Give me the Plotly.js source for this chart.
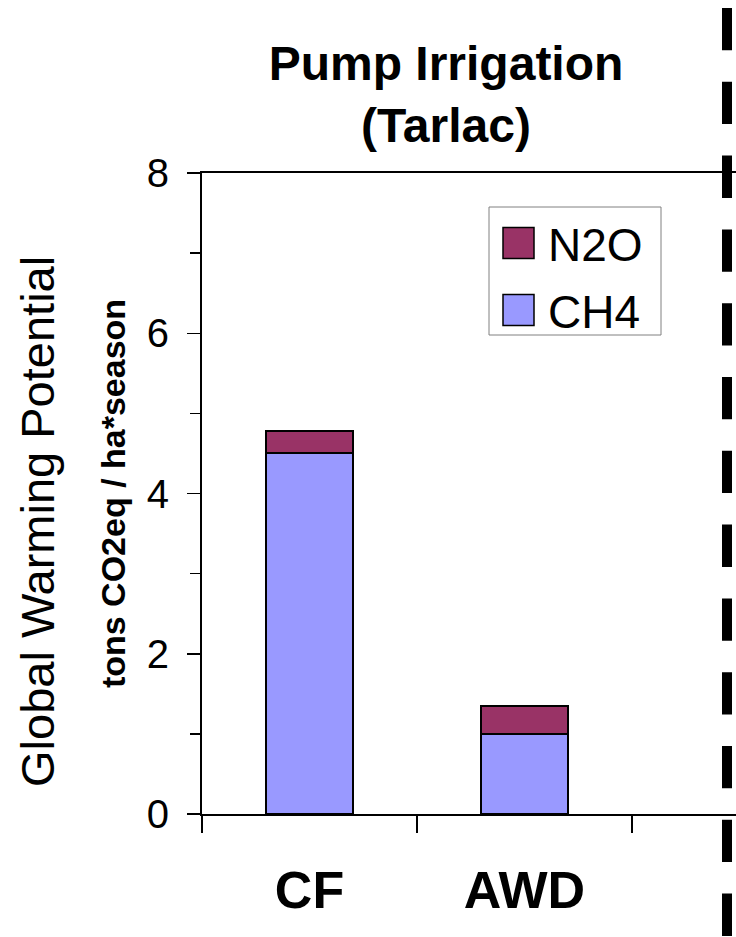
<!DOCTYPE html>
<html>
<head>
<meta charset="utf-8">
<script src="https://cdn.plot.ly/plotly-3.0.1.min.js"></script>
<style>html,body{margin:0;padding:0;background:#fff;}#chart{width:736px;height:937px;}</style>
</head>
<body>
<div id="chart"></div>
<script>
// ---- data ----
const categories = ["CF", "AWD"];
const ch4 = [4.5, 1.0];
const n2o = [0.28, 0.35];
const seriesNames = ["CH4", "N2O"];
const yTickVals = [0, 2, 4, 6, 8];
const yTickText = ["0", "2", "4", "6", "8"];

const FONT = "Liberation Sans, Arial, Helvetica, sans-serif";
const CH4_COLOR = "#9999FF";
const N2O_COLOR = "#993366";

const data = [
  {type: "bar", name: seriesNames[0], x: categories, y: ch4,
   marker: {color: CH4_COLOR, line: {color: "#000", width: 2}}},
  {type: "bar", name: seriesNames[1], x: categories, y: n2o,
   marker: {color: N2O_COLOR, line: {color: "#000", width: 2}}}
];

const L = 202, R = 736, T = 173, B = 814;
const pw = R - L, ph = B - T;
const px2xp = p => (p - L) / pw;
const py2yp = p => (B - p) / ph;

// legend drawn as shapes + text (large square swatches like the original)
const legendBox = {x0: 489, x1: 661, y0: 207, y1: 335};
const legendItems = [
  {name: seriesNames[1], color: N2O_COLOR, cy: 243},
  {name: seriesNames[0], color: CH4_COLOR, cy: 310}
];

const shapes = [
  {type: "rect", xref: "paper", yref: "paper",
   x0: px2xp(legendBox.x0), x1: px2xp(legendBox.x1), y0: py2yp(legendBox.y0), y1: py2yp(legendBox.y1),
   fillcolor: "#fff", line: {color: "#808080", width: 1}, layer: "above"},
  // dashed separator
  {type: "line", xref: "paper", yref: "paper", x0: px2xp(727), x1: px2xp(727),
   y0: py2yp(8), y1: py2yp(8 + 12 * 73.8 + 42.3), layer: "above",
   line: {color: "#000", width: 10, dash: "42.3px,31.5px"}}
];
const annotations = [
  {text: "Global Warming Potential", textangle: -90, showarrow: false,
   xref: "paper", yref: "paper", x: px2xp(37), y: py2yp(522), xanchor: "center", yanchor: "middle",
   font: {family: FONT, size: 47, color: "#000"}}
];
legendItems.forEach(it => {
  shapes.push({type: "rect", xref: "paper", yref: "paper",
    x0: px2xp(503), x1: px2xp(534), y0: py2yp(it.cy - 15.5), y1: py2yp(it.cy + 15.5),
    fillcolor: it.color, line: {color: "#000", width: 1.5}, layer: "above"});
  annotations.push({text: it.name, showarrow: false, xref: "paper", yref: "paper",
    x: px2xp(546), y: py2yp(it.cy + 2), xanchor: "left", yanchor: "middle",
    font: {family: FONT, size: 46, color: "#000"}});
});

const layout = {
  width: 736, height: 937,
  margin: {l: L, r: 736 - R, t: T, b: 937 - B, pad: 0},
  paper_bgcolor: "#fff", plot_bgcolor: "#fff",
  font: {family: FONT, color: "#000"},
  barmode: "stack",
  bargap: 0.595,
  showlegend: false,
  title: {
    text: "<b>Pump Irrigation<br>(Tarlac)</b>",
    font: {family: FONT, size: 48, color: "#000"},
    x: 446 / 736, xref: "container", xanchor: "center",
    y: 1 - 80 / 937, yref: "container", yanchor: "top"
  },
  xaxis: {
    type: "category",
    range: [-0.5, -0.5 + pw / 215],
    tickson: "boundaries",
    ticks: "outside", ticklen: 17, tickwidth: 1.5, tickcolor: "#000",
    showline: true, linecolor: "#000", linewidth: 2, mirror: true,
    showgrid: false, zeroline: false,
    tickfont: {family: FONT, size: 52, color: "#000", weight: "bold"},
    ticklabelstandoff: 30,
    fixedrange: true
  },
  yaxis: {
    range: [0, 8],
    tickvals: yTickVals, ticktext: yTickText,
    ticks: "outside", ticklen: 13, tickwidth: 1.5, tickcolor: "#000",
    minor: {dtick: 1, ticks: "outside", ticklen: 10, tickwidth: 1.5, tickcolor: "#000", showgrid: false},
    showline: true, linecolor: "#000", linewidth: 2, mirror: false,
    showgrid: false, zeroline: false,
    tickfont: {family: FONT, size: 40, color: "#000"},
    ticklabelstandoff: 10,
    title: {text: "<b>tons CO2eq / ha*season</b>", font: {family: FONT, size: 34, color: "#000"}, standoff: 11},
    automargin: false,
    fixedrange: true
  },
  annotations: annotations,
  shapes: shapes
};

Plotly.newPlot("chart", data, layout, {staticPlot: true, displayModeBar: false});
</script>
</body>
</html>
